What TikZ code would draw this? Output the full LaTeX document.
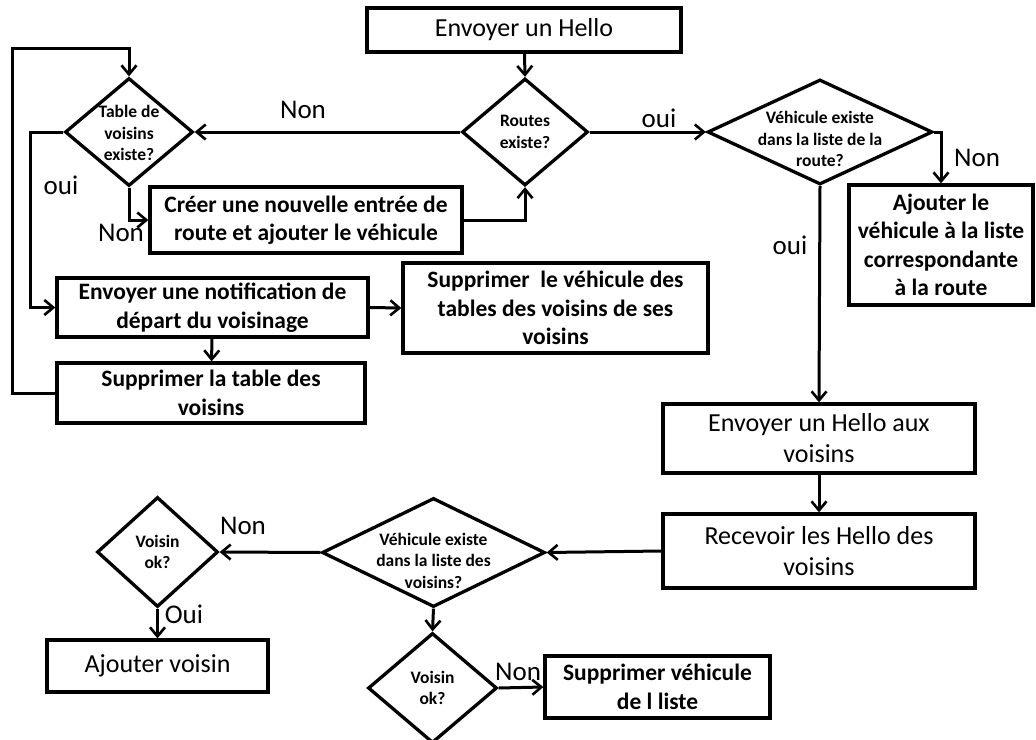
\documentclass[tikz,border=0pt]{standalone}
\usepackage{fontspec}
\setmainfont{Carlito}
\usetikzlibrary{shapes.geometric,arrows.meta}
\newcommand\lowtxt[2]{\raisebox{#1}[\height][\depth]{\begin{tabular}{@{}c@{}}#2\end{tabular}}}
\begin{document}
\begin{tikzpicture}[x=1pt,y=-1pt,
  box/.style={draw,line width=3.3pt,inner sep=0pt,align=center,font=\fontsize{26}{31}\selectfont},
  bbox/.style={box,font=\bfseries\fontsize{23.5}{28.5}\selectfont},
  dia/.style={draw,diamond,line width=3.3pt,inner sep=-10pt,align=center,font=\bfseries\fontsize{17.5}{21.5}\selectfont},
  arr/.style={line width=3pt,-{Straight Barb[length=9pt,width=15pt,line width=2.6pt]}},
  lab/.style={font=\fontsize{27}{30}\selectfont,inner sep=0pt}
]
\useasboundingbox (0,0) rectangle (1036,739);

% boxes
\node[box,minimum width=314pt,minimum height=44pt] (hello) at (524,30) {Envoyer un Hello};
\node[dia,minimum width=126pt,minimum height=107pt,aspect=1.18] (routes) at (525,132) {Routes\\existe?};
\node[dia,minimum width=128pt,minimum height=108pt,aspect=1.19] (table) at (129,132) {\lowtxt{-3pt}{Table de\\voisins\\existe?}};
\node[dia,minimum width=225pt,minimum height=105pt,aspect=2.14] (veh) at (820,132) {\lowtxt{-9pt}{Véhicule existe\\dans la liste de la\\route?}};
\node[bbox,minimum width=312pt,minimum height=66pt] (creer) at (306,220) {Créer une nouvelle entrée de\\route et ajouter le véhicule};
\node[bbox,minimum width=311pt,minimum height=59pt] (notif) at (212.5,307.5) {Envoyer une notification de\\départ du voisinage};
\node[bbox,minimum width=305pt,minimum height=90pt] (supt) at (555.5,308) {Supprimer\ \ le véhicule des\\tables des voisins de ses\\voisins};
\node[bbox,minimum width=308pt,minimum height=60pt] (supl) at (211,393) {Supprimer la table des\\voisins};
\node[bbox,minimum width=184pt,minimum height=120pt] (ajl) at (941,245) {Ajouter le\\véhicule à la liste\\correspondante\\à la route};
\node[box,minimum width=312pt,minimum height=69pt] (hello2) at (819,438.5) {Envoyer un Hello aux\\voisins};
\node[box,minimum width=312pt,minimum height=74pt] (recv) at (819,551) {Recevoir les Hello des\\voisins};
\node[dia,minimum width=223pt,minimum height=109pt,aspect=2.05] (vv) at (433.5,552.5) {\lowtxt{-10pt}{Véhicule existe\\dans la liste des\\voisins?}};
\node[dia,minimum width=121pt,minimum height=110pt,aspect=1.1] (ok1) at (157.5,552) {Voisin\\ok?};
\node[box,minimum width=221pt,minimum height=52pt] (ajv) at (157.5,666) {Ajouter voisin};
\node[dia,minimum width=129pt,minimum height=110pt,aspect=1.17] (ok2) at (432.5,688) {Voisin\\ok?};
\node[bbox,minimum width=225pt,minimum height=62pt] (sup) at (657.5,687) {Supprimer véhicule\\de l liste};

% helper coordinates
\coordinate (ouiX) at (30,307.5);
\coordinate (loop) at (12,48);

% connectors
\draw[arr] (hello) -- (routes.north);
\draw[arr] (routes.west) -- (table.east);
\draw[arr] (routes.east) -- (veh.west);
\draw[arr] (veh.east) -| (ajl.north);
\draw[arr] (veh.south) -- (hello2.north);
\draw[arr] (hello2) -- (recv);
\draw[arr] (recv.west) -- (vv.east);
\draw[arr] (vv.west) -- (ok1.east);
\draw[arr] (ok1.south) -- (ajv.north);
\draw[arr] (vv.south) -- (ok2.north);
\draw[arr] (ok2.east) -- (sup.west);
\draw[arr] (table.south) |- (creer.west);
\draw[arr] (creer.east) -| (routes.south);
\draw[arr] (table.west) -| (ouiX) -- (notif.west);
\draw[arr] (notif.east) -- (supt.west);
\draw[arr] (notif) -- (supl);
\draw[arr] (supl.west) -| (loop) -| (table.north);

% labels
\node[lab] (l1) at (303,110) {Non};
\node[lab] (l2) at (659,118) {oui};
\node[lab] (l3) at (61,185) {oui};
\node[lab] (l4) at (121,233) {Non};
\node[lab] (l5) at (977,158) {Non};
\node[lab] (l6) at (790,245) {oui};
\node[lab] (l7) at (243,526) {Non};
\node[lab] (l8) at (184,614) {Oui};
\node[lab] (l9) at (518,672) {Non};
\end{tikzpicture}
\end{document}
